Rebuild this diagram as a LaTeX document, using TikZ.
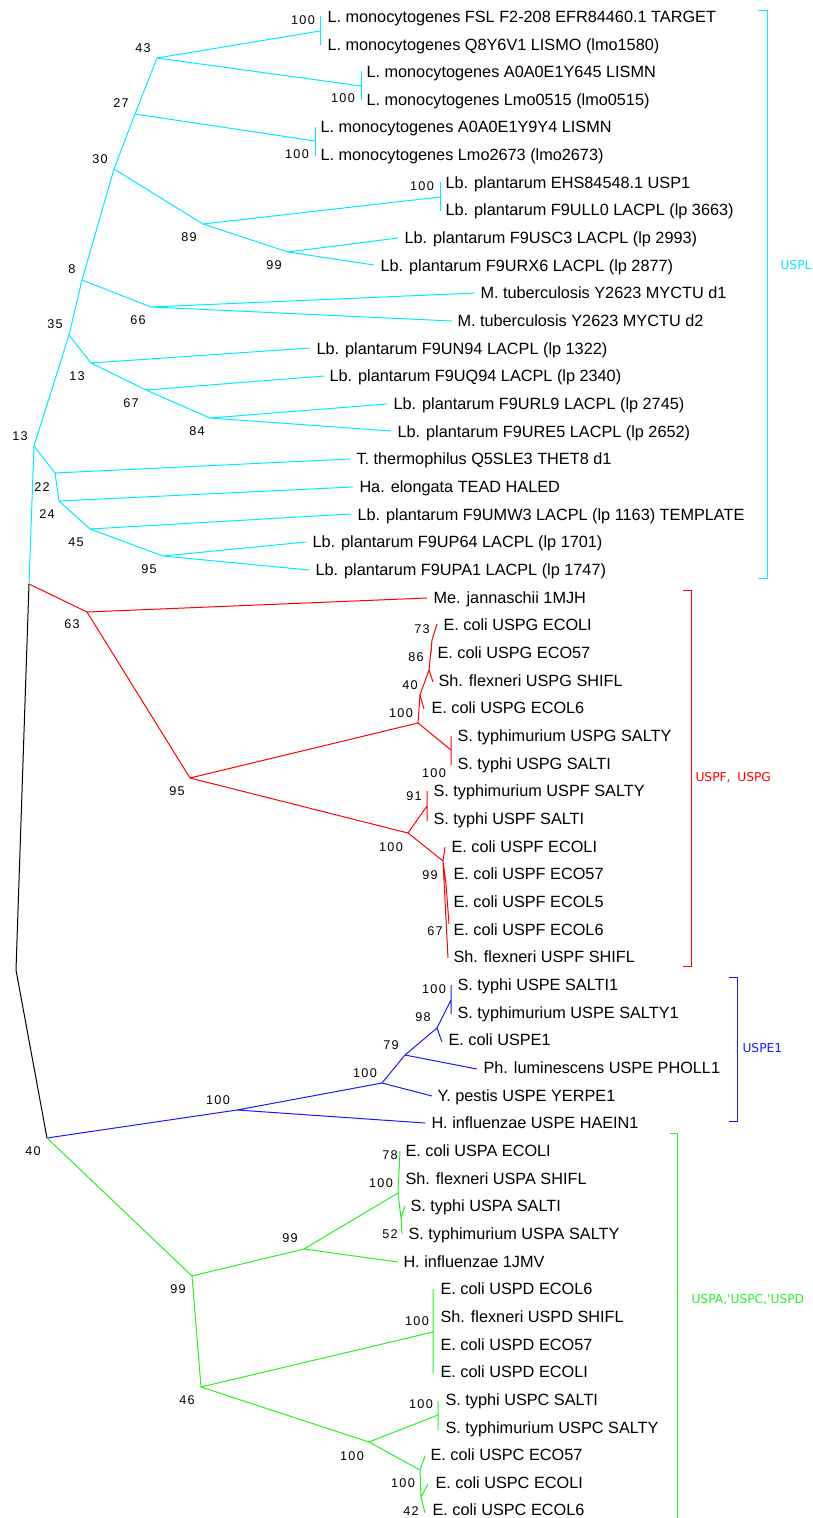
\documentclass[tikz,border=0pt]{standalone}
\usepackage{fontspec}
\setmainfont{Liberation Sans}
\newfontfamily\grpfont{DejaVu Sans}
\newfontfamily\bootfont[LetterSpace=10]{Liberation Sans}

\begin{document}
\begin{tikzpicture}[x=0.75pt, y=-0.75pt, line width=0.75pt,
    leaf/.style={anchor=west, inner sep=0pt, text height=8.7pt, text depth=0pt,
      font=\fontsize{12.2}{14}\selectfont},
    boot/.style={inner sep=0pt, text height=6.6pt, text depth=0pt,
      font=\bootfont\fontsize{9.5}{11}\selectfont},
    grp/.style={anchor=west, inner sep=0pt, font=\grpfont\fontsize{9.2}{11}\selectfont},
    rootbr/.style={draw=black},
    usplbr/.style={draw=uspl},
    uspfgbr/.style={draw=uspfg},
    uspebr/.style={draw=uspe},
    uspacdbr/.style={draw=uspacd}]

  % Colors: one per clade
  \definecolor{uspl}{RGB}{0,235,255}
  \definecolor{uspfg}{RGB}{255,0,0}
  \definecolor{uspe}{RGB}{25,25,255}
  \definecolor{uspacd}{RGB}{40,240,40}

  \useasboundingbox (0,0) rectangle (813,1518);

  % --- root (black) ---
  \coordinate (root) at (16,970);
  \coordinate (cr) at (29,584);
  \coordinate (n40) at (47,1138);
  \draw[rootbr] (cr) -- (root) -- (n40);
  \node[boot] (b40) at (33,1151) {40};

  % --- USPL clade (cyan) ---
  \coordinate (c13b) at (34,446);
  \coordinate (c35) at (69,335);
  \coordinate (c8) at (82,280);
  \coordinate (c30) at (114,169);
  \coordinate (c27) at (135,114);
  \coordinate (c43) at (157,58);
  \coordinate (p1) at (320,31);
  \coordinate (p2) at (361,86);
  \coordinate (p3) at (315,141);
  \coordinate (c89) at (203,224);
  \coordinate (p4) at (440,197);
  \coordinate (c99) at (288,252);
  \coordinate (c66) at (151,307);
  \coordinate (c13a) at (91,363);
  \coordinate (c67) at (146,390);
  \coordinate (c84) at (210,418);
  \coordinate (c22) at (55,473);
  \coordinate (c24) at (59,501);
  \coordinate (c45) at (90,529);
  \coordinate (c95) at (163,556);

  % leaf tips
  \coordinate (t0) at (320,16);
  \coordinate (t1) at (320,45);
  \coordinate (t2) at (361,71);
  \coordinate (t3) at (361,100);
  \coordinate (t4) at (315,127);
  \coordinate (t5) at (315,156);
  \coordinate (t6) at (440,182);
  \coordinate (t7) at (440,211);
  \coordinate (t8) at (398,238);
  \coordinate (t9) at (374,265);
  \coordinate (t10) at (475,293);
  \coordinate (t11) at (452,321);
  \coordinate (t12) at (310,348);
  \coordinate (t13) at (324,376);
  \coordinate (t14) at (387,404);
  \coordinate (t15) at (391,431);
  \coordinate (t16) at (350,459);
  \coordinate (t17) at (353,487);
  \coordinate (t18) at (351,514);
  \coordinate (t19) at (306,542);
  \coordinate (t20) at (309,570);

  % branches
  \draw[usplbr] (cr) -- (c13b) -- (c35) -- (c8) -- (c30) -- (c27) -- (c43) -- (p1);
  \draw[usplbr] (c43) -- (p2) (c27) -- (p3) (c30) -- (c89) -- (p4) (c89) -- (c99);
  \draw[usplbr] (t0) -- (t1) (t2) -- (t3) (t4) -- (t5) (t6) -- (t7);
  \draw[usplbr] (c99) -- (t8) (c99) -- (t9);
  \draw[usplbr] (c8) -- (c66) -- (t10) (c66) -- (t11);
  \draw[usplbr] (c35) -- (c13a) -- (t12) (c13a) -- (c67) -- (t13) (c67) -- (c84) -- (t14) (c84) -- (t15);
  \draw[usplbr] (c13b) -- (c22) -- (t16) (c22) -- (c24) -- (t17) (c24) -- (c45) -- (t18) (c45) -- (c95) -- (t19) (c95) -- (t20);

  % bootstrap values
  \node[boot] (bp1) at (303,20) {100};
  \node[boot] (b43) at (143,48) {43};
  \node[boot] (bp2) at (343,98) {100};
  \node[boot] (b27) at (121,103) {27};
  \node[boot] (bp3) at (297,154) {100};
  \node[boot] (b30) at (100,159) {30};
  \node[boot] (bp4) at (422,186) {100};
  \node[boot] (b89) at (189,237) {89};
  \node[boot] (b99) at (274,265) {99};
  \node[boot] (b8) at (72,269) {8};
  \node[boot] (b66) at (138,320) {66};
  \node[boot] (b35) at (55,324) {35};
  \node[boot] (b13a) at (77,376) {13};
  \node[boot] (b67) at (131,403) {67};
  \node[boot] (b84) at (197,431) {84};
  \node[boot] (b13b) at (20,436) {13};
  \node[boot] (b22) at (42,487) {22};
  \node[boot] (b24) at (47,514) {24};
  \node[boot] (b45) at (76,542) {45};
  \node[boot] (b95) at (149,569) {95};

  % leaf labels
  \node[leaf] (l0) at (327,16.5) {L. monocytogenes FSL F2-208 EFR84460.1 TARGET};
  \node[leaf] (l1) at (327,44.2) {L. monocytogenes Q8Y6V1 LISMO (lmo1580)};
  \node[leaf] (l2) at (366,71.8) {L. monocytogenes A0A0E1Y645 LISMN};
  \node[leaf] (l3) at (366,99.5) {L. monocytogenes Lmo0515 (lmo0515)};
  \node[leaf] (l4) at (320,127.1) {L. monocytogenes A0A0E1Y9Y4 LISMN};
  \node[leaf] (l5) at (320,154.8) {L. monocytogenes Lmo2673 (lmo2673)};
  \node[leaf] (l6) at (445,182.5) {Lb. plantarum EHS84548.1 USP1};
  \node[leaf] (l7) at (445,210.1) {Lb. plantarum F9ULL0 LACPL (lp 3663)};
  \node[leaf] (l8) at (404,237.8) {Lb. plantarum F9USC3 LACPL (lp 2993)};
  \node[leaf] (l9) at (380,265.4) {Lb. plantarum F9URX6 LACPL (lp 2877)};
  \node[leaf] (l10) at (480,293.1) {M. tuberculosis Y2623 MYCTU d1};
  \node[leaf] (l11) at (457,320.8) {M. tuberculosis Y2623 MYCTU d2};
  \node[leaf] (l12) at (316,348.4) {Lb. plantarum F9UN94 LACPL (lp 1322)};
  \node[leaf] (l13) at (329,376.1) {Lb. plantarum F9UQ94 LACPL (lp 2340)};
  \node[leaf] (l14) at (393,403.7) {Lb. plantarum F9URL9 LACPL (lp 2745)};
  \node[leaf] (l15) at (397,431.4) {Lb. plantarum F9URE5 LACPL (lp 2652)};
  \node[leaf] (l16) at (356,459.1) {T. thermophilus Q5SLE3 THET8 d1};
  \node[leaf] (l17) at (359,486.7) {Ha. elongata TEAD HALED};
  \node[leaf] (l18) at (357,514.4) {Lb. plantarum F9UMW3 LACPL (lp 1163) TEMPLATE};
  \node[leaf] (l19) at (312,542.0) {Lb. plantarum F9UP64 LACPL (lp 1701)};
  \node[leaf] (l20) at (315,569.7) {Lb. plantarum F9UPA1 LACPL (lp 1747)};

  % --- USPF, USPG clade (red) ---
  \coordinate (r63) at (87,612);
  \coordinate (r95) at (190,778);
  \coordinate (rg100) at (418,723);
  \coordinate (rg40) at (420,695);
  \coordinate (rg86) at (429,670);
  \coordinate (rg73) at (432,640);
  \coordinate (rgp) at (451,750);
  \coordinate (rf100) at (408,833);
  \coordinate (rf91) at (427,806);
  \coordinate (rf99) at (443,861);
  \coordinate (rf67) at (446,884);

  \coordinate (t21) at (427,598);
  \coordinate (t22) at (437,624);
  \coordinate (t23) at (431,653);
  \coordinate (t24) at (433,682);
  \coordinate (t25) at (424,709);
  \coordinate (t26) at (451,736);
  \coordinate (t27) at (451,765);
  \coordinate (t28) at (427,791);
  \coordinate (t29) at (427,821);
  \coordinate (t30) at (445,847);
  \coordinate (t33) at (449,924);
  \coordinate (t34) at (448,958);

  \draw[uspfgbr] (cr) -- (r63) -- (t21) (r63) -- (r95);
  \draw[uspfgbr] (r95) -- (rg100) -- (rg40) -- (rg86) -- (rg73) -- (t22) (rg73) -- (t23);
  \draw[uspfgbr] (rg86) -- (t24) (rg40) -- (t25) (rg100) -- (rgp) (t26) -- (t27);
  \draw[uspfgbr] (r95) -- (rf100) -- (rf91) (t28) -- (t29);
  \draw[uspfgbr] (rf100) -- (rf99) -- (t30) (rf99) -- (t34) (rf99) -- (rf67) -- (t33);

  \node[boot] (b63) at (72,624) {63};
  \node[boot] (b95r) at (177,791) {95};
  \node[boot] (b73) at (422,629) {73};
  \node[boot] (b86) at (416,657) {86};
  \node[boot] (b40r) at (410,685) {40};
  \node[boot] (bg100) at (401,713) {100};
  \node[boot] (bgp) at (434,773) {100};
  \node[boot] (b91) at (414,796) {91};
  \node[boot] (bf100) at (391,847) {100};
  \node[boot] (b99r) at (430,875) {99};
  \node[boot] (b67r) at (435,931) {67};

  \node[leaf] (l21) at (433,597.4) {Me. jannaschii 1MJH};
  \node[leaf] (l22) at (443,625.0) {E. coli USPG ECOLI};
  \node[leaf] (l23) at (437,652.7) {E. coli USPG ECO57};
  \node[leaf] (l24) at (438,680.3) {Sh. flexneri USPG SHIFL};
  \node[leaf] (l25) at (431,708.0) {E. coli USPG ECOL6};
  \node[leaf] (l26) at (457,735.7) {S. typhimurium USPG SALTY};
  \node[leaf] (l27) at (457,763.3) {S. typhi USPG SALTI};
  \node[leaf] (l28) at (433,791.0) {S. typhimurium USPF SALTY};
  \node[leaf] (l29) at (433,818.6) {S. typhi USPF SALTI};
  \node[leaf] (l30) at (451,846.3) {E. coli USPF ECOLI};
  \node[leaf] (l31) at (453,874.0) {E. coli USPF ECO57};
  \node[leaf] (l32) at (453,901.6) {E. coli USPF ECOL5};
  \node[leaf] (l33) at (453,929.3) {E. coli USPF ECOL6};
  \node[leaf] (l34) at (453,956.9) {Sh. flexneri USPF SHIFL};

  % --- USPE1 clade (blue) ---
  \coordinate (b100a) at (237,1110);
  \coordinate (b100b) at (382,1083);
  \coordinate (b79) at (405,1055);
  \coordinate (b98) at (437,1028);
  \coordinate (bp) at (451,1000);

  \coordinate (t35) at (451,985);
  \coordinate (t36) at (451,1014);
  \coordinate (t37) at (442,1042);
  \coordinate (t38) at (477,1069);
  \coordinate (t39) at (432,1096);
  \coordinate (t40) at (425,1123);

  \draw[uspebr] (n40) -- (b100a) -- (t40) (b100a) -- (b100b) -- (t39);
  \draw[uspebr] (b100b) -- (b79) -- (t38) (b79) -- (b98) -- (t37) (b98) -- (bp) (t35) -- (t36);

  \node[boot] (bb100a) at (218,1100) {100};
  \node[boot] (bb100b) at (365,1073) {100};
  \node[boot] (bb79) at (391,1045) {79};
  \node[boot] (bb98) at (423,1017) {98};
  \node[boot] (bbp) at (434,989) {100};

  \node[leaf] (l35) at (457,984.6) {S. typhi USPE SALTI1};
  \node[leaf] (l36) at (457,1012.3) {S. typhimurium USPE SALTY1};
  \node[leaf] (l37) at (448,1039.9) {E. coli USPE1};
  \node[leaf] (l38) at (483,1067.6) {Ph. luminescens USPE PHOLL1};
  \node[leaf] (l39) at (437,1095.2) {Y. pestis USPE YERPE1};
  \node[leaf] (l40) at (431,1122.9) {H. influenzae USPE HAEIN1};

  % --- USPA, USPC, USPD clade (green) ---
  \coordinate (g99) at (192,1276);
  \coordinate (g99b) at (304,1249);
  \coordinate (gA) at (398,1193);
  \coordinate (g52) at (401,1218);
  \coordinate (g46) at (201,1387);
  \coordinate (gD) at (433,1332);
  \coordinate (gC) at (369,1442);
  \coordinate (gCp) at (438,1415);
  \coordinate (gCa) at (420,1470);
  \coordinate (g42) at (421,1497);

  \coordinate (t41) at (400,1151);
  \coordinate (t43) at (405,1206);
  \coordinate (t44) at (402,1234);
  \coordinate (t45) at (398,1262);
  \coordinate (t46) at (433,1289);
  \coordinate (t49) at (433,1373);
  \coordinate (t50) at (438,1401);
  \coordinate (t51) at (438,1430);
  \coordinate (t52) at (425,1456);
  \coordinate (t53) at (428,1484);
  \coordinate (t54) at (425,1513);

  \draw[uspacdbr] (n40) -- (g99) -- (g99b) -- (t45) (g99b) -- (gA) -- (t41);
  \draw[uspacdbr] (gA) -- (g52) -- (t43) (g52) -- (t44);
  \draw[uspacdbr] (g99) -- (g46) -- (gD) (t46) -- (t49);
  \draw[uspacdbr] (g46) -- (gC) -- (gCp) (t50) -- (t51);
  \draw[uspacdbr] (gC) -- (gCa) -- (t52) (gCa) -- (g42) -- (t53) (g42) -- (t54);

  \node[boot] (bg78) at (390,1155) {78};
  \node[boot] (bgA) at (381,1183) {100};
  \node[boot] (bg52) at (390,1234) {52};
  \node[boot] (bg99b) at (290,1238) {99};
  \node[boot] (bg99) at (178,1289) {99};
  \node[boot] (bgD) at (417,1321) {100};
  \node[boot] (bg46) at (187,1400) {46};
  \node[boot] (bgCp) at (421,1404) {100};
  \node[boot] (bgC) at (352,1456) {100};
  \node[boot] (bgCa) at (403,1483) {100};
  \node[boot] (bg42) at (411,1511) {42};

  \node[leaf] (l41) at (405,1150.6) {E. coli USPA ECOLI};
  \node[leaf] (l42) at (405,1178.2) {Sh. flexneri USPA SHIFL};
  \node[leaf] (l43) at (410,1205.9) {S. typhi USPA SALTI};
  \node[leaf] (l44) at (408,1233.5) {S. typhimurium USPA SALTY};
  \node[leaf] (l45) at (403,1261.2) {H. influenzae 1JMV};
  \node[leaf] (l46) at (440,1288.9) {E. coli USPD ECOL6};
  \node[leaf] (l47) at (440,1316.5) {Sh. flexneri USPD SHIFL};
  \node[leaf] (l48) at (440,1344.2) {E. coli USPD ECO57};
  \node[leaf] (l49) at (440,1371.8) {E. coli USPD ECOLI};
  \node[leaf] (l50) at (445,1399.5) {S. typhi USPC SALTI};
  \node[leaf] (l51) at (445,1427.2) {S. typhimurium USPC SALTY};
  \node[leaf] (l52) at (430,1454.8) {E. coli USPC ECO57};
  \node[leaf] (l53) at (435,1482.5) {E. coli USPC ECOLI};
  \node[leaf] (l54) at (432,1510.1) {E. coli USPC ECOL6};

  % --- clade brackets ---
  \draw[usplbr] (758,10) -- (767,10) -- (767,578) -- (758,578);
  \node[grp, text=uspl, anchor=east] (gUSPL) at (812,265) {USPL};
  \draw[uspfgbr] (683,590) -- (691,590) -- (691,966) -- (683,966);
  \node[grp, text=uspfg] (gUSPFG) at (695,778) {USPF,\hspace{5pt}USPG};
  \draw[uspebr] (729,977) -- (737,977) -- (737,1121) -- (729,1121);
  \node[grp, text=uspe] (gUSPE) at (742,1048) {USPE1};
  \draw[uspacdbr] (670,1133) -- (677,1133) -- (677,1530);
  \node[grp, text=uspacd] (gUSPACD) at (691,1300) {USPA,\textquotesingle USPC,\textquotesingle USPD};

\end{tikzpicture}
\end{document}
